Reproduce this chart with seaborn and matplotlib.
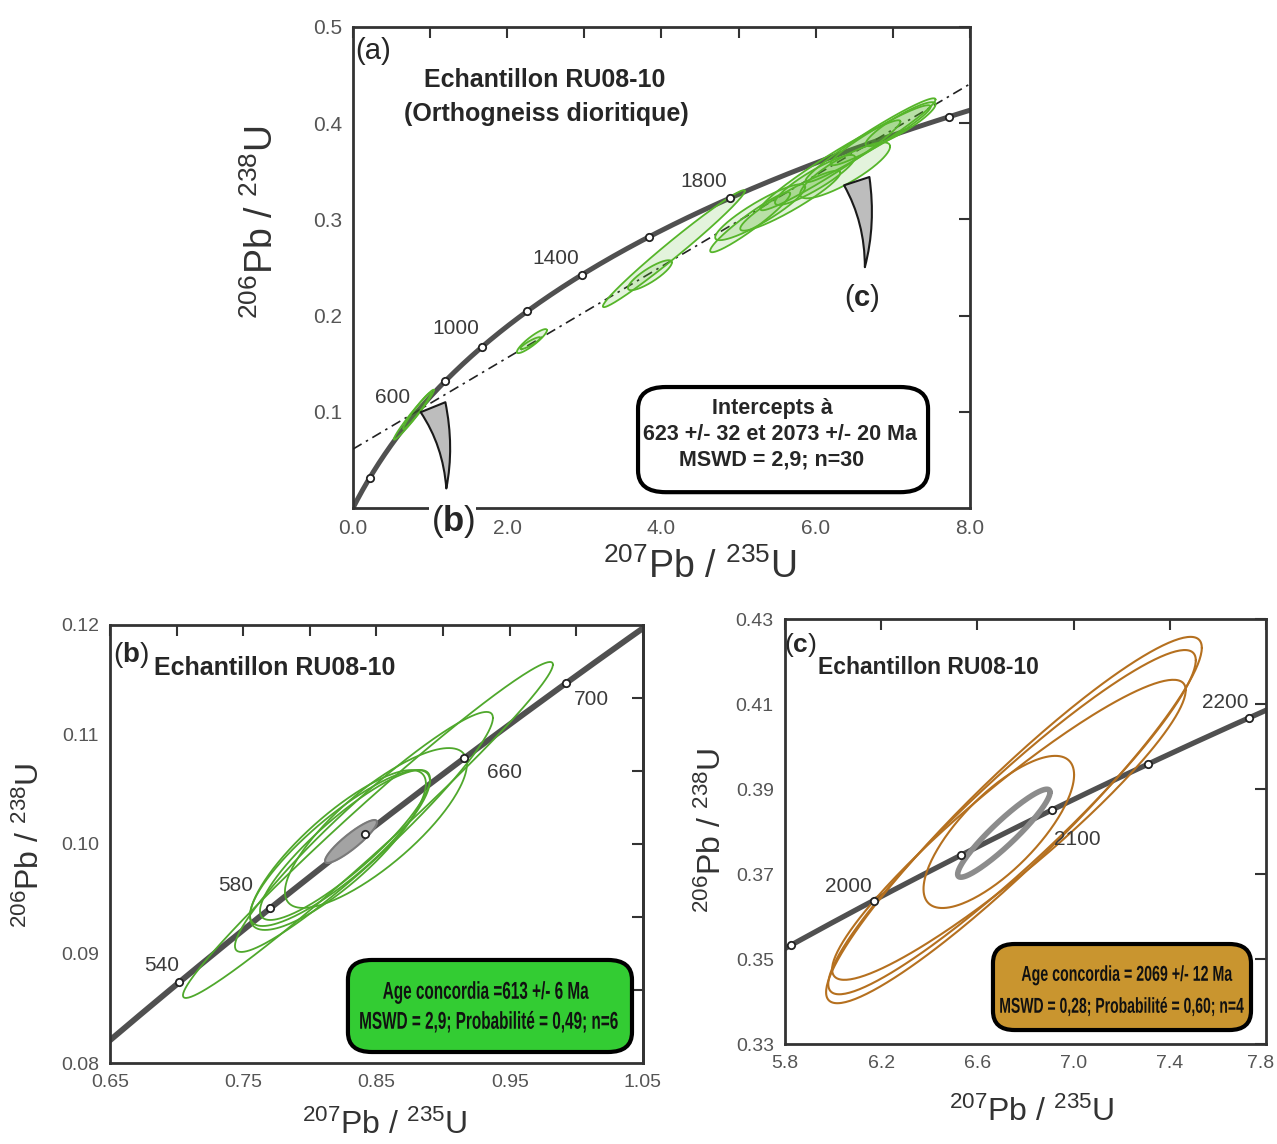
import numpy as np
import pandas as pd
import matplotlib
matplotlib.use("Agg")
import matplotlib.pyplot as plt
import matplotlib.transforms as mtrans
import seaborn as sns
from matplotlib.patches import FancyBboxPatch, PathPatch
from matplotlib.textpath import TextPath
from matplotlib.font_manager import FontProperties
from matplotlib.ticker import FormatStrFormatter, FixedLocator

# U-Pb decay constants (1/yr)
L238 = 1.55125e-10
L235 = 9.8485e-10

# ---- panel (a) : whole sample, discordia
a_marker_ages = [200, 800, 1000, 1200, 1400, 1600, 1800, 2200]
a_label_ages = [600, 1000, 1400, 1800]
a_intercepts = [623, 2073]
a_ell_x = [0.79, 0.83, 2.32, 2.30, 4.16, 3.85, 5.15, 5.28, 5.67, 5.99, 6.19, 6.38, 6.71, 6.84, 7.10]
a_ell_y = [0.097, 0.101, 0.1735, 0.1714, 0.2696, 0.242, 0.2971, 0.3075, 0.3195, 0.341, 0.3563, 0.351, 0.3823, 0.3875, 0.399]
a_ell_sx = [0.26, 0.18, 0.195, 0.13, 0.92, 0.285, 0.519, 0.584, 0.649, 0.519, 0.908, 0.584, 0.843, 0.649, 0.454]
a_ell_sy = [0.026, 0.019, 0.0125, 0.0062, 0.0608, 0.0156, 0.0312, 0.0291, 0.0312, 0.026, 0.0468, 0.0291, 0.0436, 0.0312, 0.0229]
a_ell_rho = [0.98, 0.97, 0.9, 0.9, 0.985, 0.85, 0.95, 0.9, 0.93, 0.9, 0.97, 0.85, 0.97, 0.95, 0.9]

# ---- panel (b) : young concordant group
b_marker_ages = [540, 580, 620, 660, 700]
b_label_ages = [540, 580, 660, 700]
b_ell_x = [0.8436, 0.8406, 0.8496, 0.8226, 0.8211, 0.8264]
b_ell_y = [0.10128, 0.10110, 0.10146, 0.09963, 0.09945, 0.09991]
b_ell_sx = [0.1388, 0.0968, 0.0683, 0.0675, 0.066, 0.0638]
b_ell_sy = [0.01534, 0.01096, 0.0073, 0.00712, 0.0073, 0.00685]
b_ell_rho = [0.984, 0.95, 0.80, 0.86, 0.83, 0.88]
b_conc = [0.8309, 0.10023, 0.0195, 0.00196, 0.90]

# ---- panel (c) : old concordant group
c_marker_ages = [1950, 2000, 2050, 2100, 2150, 2200]
c_label_ages = [2000, 2100, 2200]
c_ell_x = [6.752, 6.744, 6.731, 6.689]
c_ell_y = [0.3827, 0.3822, 0.3804, 0.3799]
c_ell_sx = [0.781, 0.764, 0.735, 0.313]
c_ell_sy = [0.0431, 0.0405, 0.0353, 0.0179]
c_ell_rho = [0.94, 0.94, 0.93, 0.75]
c_conc = [6.710, 0.3796, 0.192, 0.01035, 0.93]

sns.set_style("white")
plt.rcParams["font.family"] = ["Liberation Sans", "DejaVu Sans"]
plt.rcParams["mathtext.fontset"] = "custom"
plt.rcParams["mathtext.rm"] = "Liberation Sans"
plt.rcParams["mathtext.bf"] = "Liberation Sans:bold"
plt.rcParams["mathtext.default"] = "regular"
CURVE = "#505050"
DARK = "#333333"


def concordia(ages):
    t = np.asarray(ages, dtype=float) * 1e6
    return np.expm1(L235 * t), np.expm1(L238 * t)


def ellipse(cx, cy, sx, sy, rho, n=240):
    th = np.linspace(0, 2 * np.pi, n)
    return cx + sx * np.cos(th), cy + sy * (rho * np.cos(th) + np.sqrt(1 - rho ** 2) * np.sin(th))


def style_axes(ax, fs):
    for s in ax.spines.values():
        s.set_visible(True)
        s.set_color(DARK)
        s.set_linewidth(2)
    ax.tick_params(which="both", direction="in", top=True, right=True, length=8,
                   width=1.5, color=DARK, labelcolor="#555555", labelsize=fs, pad=8)


def set_labels(ax, fs, xpos, ypos):
    ax.set_xlabel(r"$^{207}$Pb / $^{235}$U", fontsize=fs, color=DARK, va="center")
    ax.set_ylabel(r"$^{206}$Pb / $^{238}$U", fontsize=fs, color=DARK, va="center")
    ax.xaxis.set_label_coords(*xpos)
    ax.yaxis.set_label_coords(*ypos)


def draw_curve(ax, t0, t1, lw, marker_ages, label_ages, offsets, fs):
    cx, cy = concordia(np.linspace(t0, t1, 500))
    sns.lineplot(x=cx, y=cy, sort=False, color=CURVE, lw=lw, ax=ax, zorder=2)
    mx, my = concordia(marker_ages)
    sns.scatterplot(x=mx, y=my, s=28, color="white", edgecolor="#222222", linewidth=1.3,
                    ax=ax, zorder=5)
    lx, ly = concordia(label_ages)
    for x, y, a, off in zip(lx, ly, label_ages, offsets):
        ax.annotate(str(a), (x, y), xytext=off, textcoords="offset points", ha="center",
                    va="center", fontsize=fs, color="#3a3a3a", zorder=6)


def draw_ellipses(ax, xs, ys, sxs, sys_, rhos, color, lw, fill=None):
    for cx, cy, sx, sy, r in zip(xs, ys, sxs, sys_, rhos):
        ex, ey = ellipse(cx, cy, sx, sy, r)
        if fill is not None:
            ax.fill(ex, ey, color=fill, alpha=0.16, lw=0, zorder=3)
        ax.plot(ex, ey, color=color, lw=lw, zorder=4)


def squeezed_text(ax, x, y, s, size, hscale):
    # condensed bold text (narrow face not installed): scale the glyph outlines
    tp = TextPath((0, 0), s, size=size, prop=FontProperties(family="Liberation Sans", weight="bold"))
    ext = tp.get_extents()
    k = fig.dpi / 72
    tr = (mtrans.Affine2D().translate(-(ext.x0 + ext.x1) / 2, -0.36 * size).scale(hscale * k, k)
          + mtrans.ScaledTranslation(x, y, ax.transAxes))
    ax.add_patch(PathPatch(tp, transform=tr, fc="#111111", ec="none", zorder=9))


def add_box(ax, x0, y0, x1, y1, fc):
    box = FancyBboxPatch((x0, y0), x1 - x0, y1 - y0, boxstyle="round,pad=0,rounding_size=0.045",
                         transform=ax.transAxes, fc=fc, ec="black", lw=3, zorder=8)
    ax.add_patch(box)


fig = plt.figure(figsize=(12.77, 11.44), dpi=100)
ax_a = fig.add_axes([0.2764, 0.5559, 0.4832, 0.4205])
ax_b = fig.add_axes([0.0861, 0.0708, 0.4174, 0.3829])
ax_c = fig.add_axes([0.6147, 0.0874, 0.3767, 0.3715])

# ---------------- (a)
ax = ax_a
draw_curve(ax, 0, 2300, 3.6, a_marker_ages, a_label_ages,
           [(-16, 12), (-19, 13), (-19, 12), (-19, 12)], 15)
ix, iy = concordia(a_intercepts)
slope = (iy[1] - iy[0]) / (ix[1] - ix[0])
dx = np.array([0.0, 8.0])
ax.plot(dx, iy[0] + slope * (dx - ix[0]), color="#222222", lw=1.2, ls=(0, (6, 3, 1.5, 3)), zorder=3)
draw_ellipses(ax, a_ell_x, a_ell_y, a_ell_sx, a_ell_sy, a_ell_rho, "#56b52a", 1.3, fill="#56b52a")
ax.set_xlim(0, 8)
ax.set_ylim(0, 0.5)
ax.xaxis.set_major_locator(FixedLocator([0, 2, 4, 6, 8]))
ax.xaxis.set_minor_locator(FixedLocator([1, 3, 5, 7]))
ax.yaxis.set_major_locator(FixedLocator([0.1, 0.2, 0.3, 0.4, 0.5]))
ax.xaxis.set_major_formatter(FormatStrFormatter("%.1f"))
ax.yaxis.set_major_formatter(FormatStrFormatter("%.1f"))
style_axes(ax, 15)
set_labels(ax, 27, (0.562, -0.123), (-0.147, 0.595))
ax.text(0.032, 0.950, "(a)", transform=ax.transAxes, ha="center", va="center", fontsize=21)
ax.text(0.311, 0.890, "Echantillon RU08-10", transform=ax.transAxes, ha="center",
        va="center", fontsize=18, weight="bold")
ax.text(0.313, 0.819, "(Orthogneiss dioritique)", transform=ax.transAxes, ha="center",
        va="center", fontsize=18, weight="bold")
arrow = dict(arrowstyle="wedge,tail_width=0.8,shrink_factor=0.45", fc="#bdbdbd", ec="#1a1a1a",
             lw=1.5, mutation_scale=24, connectionstyle="arc3,rad=-0.12")
ax.annotate("", xy=(0.151, 0.035), xytext=(0.128, 0.215), xycoords="axes fraction",
            arrowprops=arrow, zorder=7)
ax.annotate("", xy=(0.829, 0.495), xytext=(0.815, 0.685), xycoords="axes fraction",
            arrowprops=arrow, zorder=7)
ax.text(0.162, -0.027, r"($\mathbf{b}$)", transform=ax.transAxes, ha="center", va="center",
        fontsize=25, zorder=10, bbox=dict(fc="white", ec="none", pad=1), clip_on=False)
ax.text(0.825, 0.437, r"($\mathbf{c}$)", transform=ax.transAxes, ha="center", va="center",
        fontsize=21, zorder=10)
add_box(ax, 0.462, 0.033, 0.932, 0.2516, "white")
for tx, ty, s in [(0.680, 0.2079, "Intercepts à"), (0.692, 0.1538, "623 +/- 32 et 2073 +/- 20 Ma"),
                  (0.679, 0.0998, "MSWD = 2,9; n=30")]:
    ax.text(tx, ty, s, transform=ax.transAxes, ha="center", va="center", fontsize=15.5,
            weight="bold", zorder=9)

# ---------------- (b)
ax = ax_b
draw_curve(ax, 480, 760, 4.2, b_marker_ages, b_label_ages,
           [(-13, 12), (-25, 16), (29, -10), (18, -12)], 15)
draw_ellipses(ax, b_ell_x, b_ell_y, b_ell_sx, b_ell_sy, b_ell_rho, "#4fa82c", 1.3)
gx, gy = ellipse(*b_conc)
ax.fill(gx, gy, color="#a3a3a3", zorder=4)
ax.plot(gx, gy, color="#7a7a7a", lw=1.5, zorder=4)
ax.set_xlim(0.65, 1.05)
ax.set_ylim(0.08, 0.12)
ax.xaxis.set_major_locator(FixedLocator([0.65, 0.75, 0.85, 0.95, 1.05]))
ax.xaxis.set_minor_locator(FixedLocator([0.70, 0.80, 0.90, 1.00]))
ax.yaxis.set_major_locator(FixedLocator([0.08, 0.09, 0.10, 0.11, 0.12]))
ax.xaxis.set_major_formatter(FormatStrFormatter("%.2f"))
ax.yaxis.set_major_formatter(FormatStrFormatter("%.2f"))
style_axes(ax, 14)
ax.tick_params(which="both", right=False)
sec = ax.secondary_yaxis("right")
sec.set_yticks([0.0867, 0.0933, 0.1, 0.1067, 0.1133])
sec.tick_params(direction="in", length=8, width=1.5, color=DARK, labelright=False)
sec.spines["right"].set_color(DARK)
sec.spines["right"].set_linewidth(2)
set_labels(ax, 23, (0.516, -0.142), (-0.150, 0.498))
ax.text(0.039, 0.9315, r"($\mathbf{b}$)", transform=ax.transAxes, ha="center", va="center",
        fontsize=20)
ax.text(0.31, 0.902, "Echantillon RU08-10", transform=ax.transAxes, ha="center", va="center",
        fontsize=18, weight="bold")
add_box(ax, 0.4465, 0.0251, 0.9794, 0.2352, "#33cc33")
squeezed_text(ax, 0.7054, 0.1667, "Age concordia =613 +/- 6 Ma", 17.5, 0.63)
squeezed_text(ax, 0.711, 0.0982, "MSWD = 2,9; Probabilité = 0,49; n=6", 17.5, 0.63)

# ---------------- (c)
ax = ax_c
draw_curve(ax, 1900, 2260, 3.8, c_marker_ages, c_label_ages,
           [(-18, 10), (18, -21), (-17, 11)], 15)
draw_ellipses(ax, c_ell_x, c_ell_y, c_ell_sx, c_ell_sy, c_ell_rho, "#b5701f", 1.5)
gx, gy = ellipse(*c_conc)
ax.plot(gx, gy, color="#8c8c8c", lw=4, zorder=4)
ax.set_xlim(5.8, 7.8)
ax.set_ylim(0.33, 0.43)
ax.xaxis.set_major_locator(FixedLocator([5.8, 6.2, 6.6, 7.0, 7.4, 7.8]))
ax.yaxis.set_major_locator(FixedLocator([0.33, 0.35, 0.37, 0.39, 0.41, 0.43]))
ax.xaxis.set_major_formatter(FormatStrFormatter("%.1f"))
ax.yaxis.set_major_formatter(FormatStrFormatter("%.2f"))
style_axes(ax, 14)
fig.canvas.draw()
last = ax.get_xticklabels()[-1]
last.set_horizontalalignment("right")
last.set_transform(last.get_transform() + mtrans.ScaledTranslation(6 / 72, 0, fig.dpi_scale_trans))
set_labels(ax, 23, (0.514, -0.16), (-0.150, 0.504))
ax.text(0.033, 0.939, r"($\mathbf{c}$)", transform=ax.transAxes, ha="center", va="center",
        fontsize=19)
ax.text(0.299, 0.885, "Echantillon RU08-10", transform=ax.transAxes, ha="center",
        va="center", fontsize=16.5, weight="bold")
add_box(ax, 0.4324, 0.0329, 0.9688, 0.2353, "#c9952f")
squeezed_text(ax, 0.711, 0.167, "Age concordia = 2069 +/- 12 Ma", 15.5, 0.66)
squeezed_text(ax, 0.7006, 0.0918, "MSWD = 0,28; Probabilité = 0,60; n=4", 15.5, 0.65)

fig.savefig("out.png", dpi=100, facecolor="white")
